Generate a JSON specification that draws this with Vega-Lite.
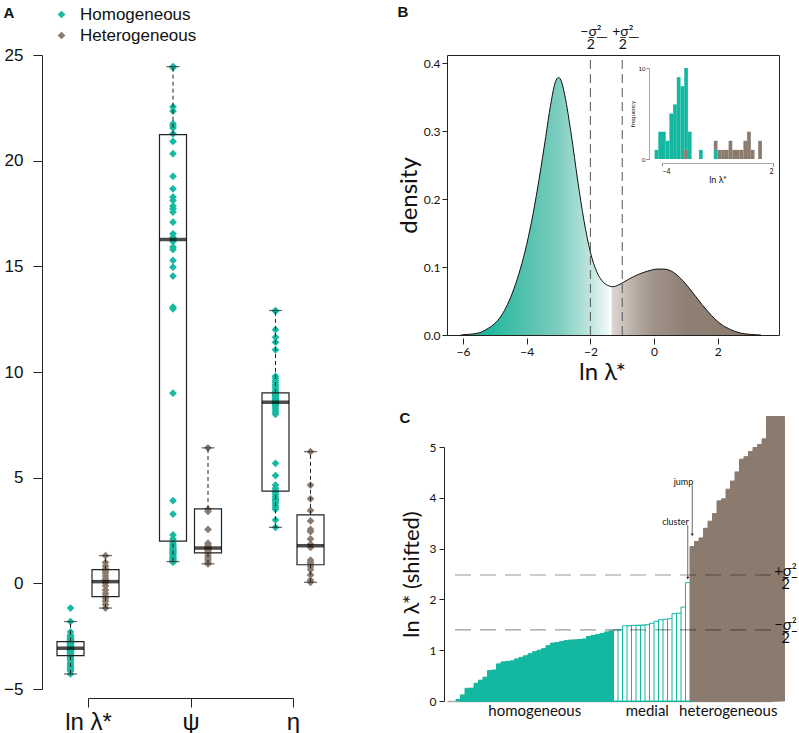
{
  "$schema": "https://vega.github.io/schema/vega-lite/v6.json",
  "padding": {"left": 3, "top": 3, "right": 0, "bottom": 0},
  "config": {
    "view": {"stroke": null},
    "font": "Liberation Sans",
    "axis": {"grid": false, "domainColor": "#222", "tickColor": "#222", "labelColor": "#111", "titleColor": "#111", "titleFontWeight": "normal"}
  },
  "datasets": {
    "stats": [
      {"param": "ln λ*", "group": "Homogeneous", "min": -4.29, "q1": -3.42, "med": -3.07, "q3": -2.76, "max": -1.81},
      {"param": "ln λ*", "group": "Heterogeneous", "min": -1.17, "q1": -0.63, "med": 0.08, "q3": 0.65, "max": 1.31},
      {"param": "ψ", "group": "Homogeneous", "min": 1.03, "q1": 2.0, "med": 16.27, "q3": 21.23, "max": 24.45},
      {"param": "ψ", "group": "Heterogeneous", "min": 0.92, "q1": 1.44, "med": 1.67, "q3": 3.52, "max": 6.41},
      {"param": "η", "group": "Homogeneous", "min": 2.65, "q1": 4.36, "med": 8.57, "q3": 9.01, "max": 12.91},
      {"param": "η", "group": "Heterogeneous", "min": 0.05, "q1": 0.88, "med": 1.78, "q3": 3.24, "max": 6.23}
    ],
    "pts": [
      {"param": "ln λ*", "group": "Homogeneous", "value": -4.29},
      {"param": "ln λ*", "group": "Homogeneous", "value": -4.15},
      {"param": "ln λ*", "group": "Homogeneous", "value": -4.08},
      {"param": "ln λ*", "group": "Homogeneous", "value": -4.02},
      {"param": "ln λ*", "group": "Homogeneous", "value": -3.95},
      {"param": "ln λ*", "group": "Homogeneous", "value": -3.88},
      {"param": "ln λ*", "group": "Homogeneous", "value": -3.82},
      {"param": "ln λ*", "group": "Homogeneous", "value": -3.75},
      {"param": "ln λ*", "group": "Homogeneous", "value": -3.65},
      {"param": "ln λ*", "group": "Homogeneous", "value": -3.58},
      {"param": "ln λ*", "group": "Homogeneous", "value": -3.52},
      {"param": "ln λ*", "group": "Homogeneous", "value": -3.47},
      {"param": "ln λ*", "group": "Homogeneous", "value": -3.43},
      {"param": "ln λ*", "group": "Homogeneous", "value": -3.41},
      {"param": "ln λ*", "group": "Homogeneous", "value": -3.38},
      {"param": "ln λ*", "group": "Homogeneous", "value": -3.33},
      {"param": "ln λ*", "group": "Homogeneous", "value": -3.28},
      {"param": "ln λ*", "group": "Homogeneous", "value": -3.25},
      {"param": "ln λ*", "group": "Homogeneous", "value": -3.22},
      {"param": "ln λ*", "group": "Homogeneous", "value": -3.21},
      {"param": "ln λ*", "group": "Homogeneous", "value": -3.19},
      {"param": "ln λ*", "group": "Homogeneous", "value": -3.17},
      {"param": "ln λ*", "group": "Homogeneous", "value": -3.15},
      {"param": "ln λ*", "group": "Homogeneous", "value": -3.12},
      {"param": "ln λ*", "group": "Homogeneous", "value": -3.10},
      {"param": "ln λ*", "group": "Homogeneous", "value": -3.08},
      {"param": "ln λ*", "group": "Homogeneous", "value": -3.06},
      {"param": "ln λ*", "group": "Homogeneous", "value": -3.05},
      {"param": "ln λ*", "group": "Homogeneous", "value": -3.02},
      {"param": "ln λ*", "group": "Homogeneous", "value": -2.99},
      {"param": "ln λ*", "group": "Homogeneous", "value": -2.96},
      {"param": "ln λ*", "group": "Homogeneous", "value": -2.93},
      {"param": "ln λ*", "group": "Homogeneous", "value": -2.90},
      {"param": "ln λ*", "group": "Homogeneous", "value": -2.87},
      {"param": "ln λ*", "group": "Homogeneous", "value": -2.85},
      {"param": "ln λ*", "group": "Homogeneous", "value": -2.83},
      {"param": "ln λ*", "group": "Homogeneous", "value": -2.81},
      {"param": "ln λ*", "group": "Homogeneous", "value": -2.79},
      {"param": "ln λ*", "group": "Homogeneous", "value": -2.77},
      {"param": "ln λ*", "group": "Homogeneous", "value": -2.75},
      {"param": "ln λ*", "group": "Homogeneous", "value": -2.73},
      {"param": "ln λ*", "group": "Homogeneous", "value": -2.71},
      {"param": "ln λ*", "group": "Homogeneous", "value": -2.69},
      {"param": "ln λ*", "group": "Homogeneous", "value": -2.67},
      {"param": "ln λ*", "group": "Homogeneous", "value": -2.65},
      {"param": "ln λ*", "group": "Homogeneous", "value": -2.62},
      {"param": "ln λ*", "group": "Homogeneous", "value": -2.58},
      {"param": "ln λ*", "group": "Homogeneous", "value": -2.52},
      {"param": "ln λ*", "group": "Homogeneous", "value": -2.44},
      {"param": "ln λ*", "group": "Homogeneous", "value": -2.30},
      {"param": "ln λ*", "group": "Homogeneous", "value": -1.81},
      {"param": "ln λ*", "group": "Homogeneous", "value": -1.17},
      {"param": "ln λ*", "group": "Heterogeneous", "value": -1.17},
      {"param": "ln λ*", "group": "Heterogeneous", "value": -1.00},
      {"param": "ln λ*", "group": "Heterogeneous", "value": -0.85},
      {"param": "ln λ*", "group": "Heterogeneous", "value": -0.72},
      {"param": "ln λ*", "group": "Heterogeneous", "value": -0.62},
      {"param": "ln λ*", "group": "Heterogeneous", "value": -0.48},
      {"param": "ln λ*", "group": "Heterogeneous", "value": -0.32},
      {"param": "ln λ*", "group": "Heterogeneous", "value": -0.12},
      {"param": "ln λ*", "group": "Heterogeneous", "value": 0.03},
      {"param": "ln λ*", "group": "Heterogeneous", "value": 0.12},
      {"param": "ln λ*", "group": "Heterogeneous", "value": 0.22},
      {"param": "ln λ*", "group": "Heterogeneous", "value": 0.35},
      {"param": "ln λ*", "group": "Heterogeneous", "value": 0.48},
      {"param": "ln λ*", "group": "Heterogeneous", "value": 0.58},
      {"param": "ln λ*", "group": "Heterogeneous", "value": 0.68},
      {"param": "ln λ*", "group": "Heterogeneous", "value": 0.82},
      {"param": "ln λ*", "group": "Heterogeneous", "value": 0.98},
      {"param": "ln λ*", "group": "Heterogeneous", "value": 1.31},
      {"param": "ψ", "group": "Homogeneous", "value": 24.45},
      {"param": "ψ", "group": "Homogeneous", "value": 24.40},
      {"param": "ψ", "group": "Homogeneous", "value": 22.55},
      {"param": "ψ", "group": "Homogeneous", "value": 22.35},
      {"param": "ψ", "group": "Homogeneous", "value": 21.75},
      {"param": "ψ", "group": "Homogeneous", "value": 21.65},
      {"param": "ψ", "group": "Homogeneous", "value": 21.55},
      {"param": "ψ", "group": "Homogeneous", "value": 21.27},
      {"param": "ψ", "group": "Homogeneous", "value": 20.91},
      {"param": "ψ", "group": "Homogeneous", "value": 20.33},
      {"param": "ψ", "group": "Homogeneous", "value": 19.26},
      {"param": "ψ", "group": "Homogeneous", "value": 18.67},
      {"param": "ψ", "group": "Homogeneous", "value": 18.28},
      {"param": "ψ", "group": "Homogeneous", "value": 18.12},
      {"param": "ψ", "group": "Homogeneous", "value": 17.85},
      {"param": "ψ", "group": "Homogeneous", "value": 17.72},
      {"param": "ψ", "group": "Homogeneous", "value": 17.57},
      {"param": "ψ", "group": "Homogeneous", "value": 17.09},
      {"param": "ψ", "group": "Homogeneous", "value": 16.54},
      {"param": "ψ", "group": "Homogeneous", "value": 16.38},
      {"param": "ψ", "group": "Homogeneous", "value": 16.30},
      {"param": "ψ", "group": "Homogeneous", "value": 16.18},
      {"param": "ψ", "group": "Homogeneous", "value": 15.91},
      {"param": "ψ", "group": "Homogeneous", "value": 15.80},
      {"param": "ψ", "group": "Homogeneous", "value": 15.28},
      {"param": "ψ", "group": "Homogeneous", "value": 14.96},
      {"param": "ψ", "group": "Homogeneous", "value": 14.54},
      {"param": "ψ", "group": "Homogeneous", "value": 13.07},
      {"param": "ψ", "group": "Homogeneous", "value": 12.99},
      {"param": "ψ", "group": "Homogeneous", "value": 9.00},
      {"param": "ψ", "group": "Homogeneous", "value": 3.91},
      {"param": "ψ", "group": "Homogeneous", "value": 3.28},
      {"param": "ψ", "group": "Homogeneous", "value": 2.29},
      {"param": "ψ", "group": "Homogeneous", "value": 2.10},
      {"param": "ψ", "group": "Homogeneous", "value": 1.95},
      {"param": "ψ", "group": "Homogeneous", "value": 1.86},
      {"param": "ψ", "group": "Homogeneous", "value": 1.80},
      {"param": "ψ", "group": "Homogeneous", "value": 1.72},
      {"param": "ψ", "group": "Homogeneous", "value": 1.66},
      {"param": "ψ", "group": "Homogeneous", "value": 1.60},
      {"param": "ψ", "group": "Homogeneous", "value": 1.55},
      {"param": "ψ", "group": "Homogeneous", "value": 1.50},
      {"param": "ψ", "group": "Homogeneous", "value": 1.47},
      {"param": "ψ", "group": "Homogeneous", "value": 1.42},
      {"param": "ψ", "group": "Homogeneous", "value": 1.35},
      {"param": "ψ", "group": "Homogeneous", "value": 1.28},
      {"param": "ψ", "group": "Homogeneous", "value": 1.23},
      {"param": "ψ", "group": "Homogeneous", "value": 1.18},
      {"param": "ψ", "group": "Homogeneous", "value": 1.12},
      {"param": "ψ", "group": "Homogeneous", "value": 1.08},
      {"param": "ψ", "group": "Homogeneous", "value": 1.03},
      {"param": "ψ", "group": "Homogeneous", "value": 1.00},
      {"param": "ψ", "group": "Heterogeneous", "value": 6.41},
      {"param": "ψ", "group": "Heterogeneous", "value": 3.50},
      {"param": "ψ", "group": "Heterogeneous", "value": 3.40},
      {"param": "ψ", "group": "Heterogeneous", "value": 2.55},
      {"param": "ψ", "group": "Heterogeneous", "value": 1.90},
      {"param": "ψ", "group": "Heterogeneous", "value": 1.80},
      {"param": "ψ", "group": "Heterogeneous", "value": 1.75},
      {"param": "ψ", "group": "Heterogeneous", "value": 1.70},
      {"param": "ψ", "group": "Heterogeneous", "value": 1.65},
      {"param": "ψ", "group": "Heterogeneous", "value": 1.62},
      {"param": "ψ", "group": "Heterogeneous", "value": 1.55},
      {"param": "ψ", "group": "Heterogeneous", "value": 1.50},
      {"param": "ψ", "group": "Heterogeneous", "value": 1.42},
      {"param": "ψ", "group": "Heterogeneous", "value": 1.30},
      {"param": "ψ", "group": "Heterogeneous", "value": 1.20},
      {"param": "ψ", "group": "Heterogeneous", "value": 1.10},
      {"param": "ψ", "group": "Heterogeneous", "value": 0.98},
      {"param": "ψ", "group": "Heterogeneous", "value": 0.92},
      {"param": "η", "group": "Homogeneous", "value": 12.91},
      {"param": "η", "group": "Homogeneous", "value": 12.88},
      {"param": "η", "group": "Homogeneous", "value": 12.00},
      {"param": "η", "group": "Homogeneous", "value": 11.65},
      {"param": "η", "group": "Homogeneous", "value": 11.41},
      {"param": "η", "group": "Homogeneous", "value": 11.05},
      {"param": "η", "group": "Homogeneous", "value": 9.80},
      {"param": "η", "group": "Homogeneous", "value": 9.70},
      {"param": "η", "group": "Homogeneous", "value": 9.60},
      {"param": "η", "group": "Homogeneous", "value": 9.50},
      {"param": "η", "group": "Homogeneous", "value": 9.40},
      {"param": "η", "group": "Homogeneous", "value": 9.30},
      {"param": "η", "group": "Homogeneous", "value": 9.20},
      {"param": "η", "group": "Homogeneous", "value": 9.10},
      {"param": "η", "group": "Homogeneous", "value": 9.05},
      {"param": "η", "group": "Homogeneous", "value": 9.00},
      {"param": "η", "group": "Homogeneous", "value": 8.95},
      {"param": "η", "group": "Homogeneous", "value": 8.90},
      {"param": "η", "group": "Homogeneous", "value": 8.85},
      {"param": "η", "group": "Homogeneous", "value": 8.80},
      {"param": "η", "group": "Homogeneous", "value": 8.75},
      {"param": "η", "group": "Homogeneous", "value": 8.70},
      {"param": "η", "group": "Homogeneous", "value": 8.65},
      {"param": "η", "group": "Homogeneous", "value": 8.62},
      {"param": "η", "group": "Homogeneous", "value": 8.60},
      {"param": "η", "group": "Homogeneous", "value": 8.58},
      {"param": "η", "group": "Homogeneous", "value": 8.55},
      {"param": "η", "group": "Homogeneous", "value": 8.52},
      {"param": "η", "group": "Homogeneous", "value": 8.50},
      {"param": "η", "group": "Homogeneous", "value": 8.45},
      {"param": "η", "group": "Homogeneous", "value": 8.40},
      {"param": "η", "group": "Homogeneous", "value": 8.30},
      {"param": "η", "group": "Homogeneous", "value": 8.20},
      {"param": "η", "group": "Homogeneous", "value": 8.10},
      {"param": "η", "group": "Homogeneous", "value": 8.00},
      {"param": "η", "group": "Homogeneous", "value": 5.68},
      {"param": "η", "group": "Homogeneous", "value": 5.10},
      {"param": "η", "group": "Homogeneous", "value": 4.65},
      {"param": "η", "group": "Homogeneous", "value": 4.50},
      {"param": "η", "group": "Homogeneous", "value": 4.40},
      {"param": "η", "group": "Homogeneous", "value": 4.30},
      {"param": "η", "group": "Homogeneous", "value": 4.20},
      {"param": "η", "group": "Homogeneous", "value": 4.10},
      {"param": "η", "group": "Homogeneous", "value": 4.00},
      {"param": "η", "group": "Homogeneous", "value": 3.95},
      {"param": "η", "group": "Homogeneous", "value": 3.90},
      {"param": "η", "group": "Homogeneous", "value": 3.80},
      {"param": "η", "group": "Homogeneous", "value": 3.70},
      {"param": "η", "group": "Homogeneous", "value": 3.60},
      {"param": "η", "group": "Homogeneous", "value": 3.50},
      {"param": "η", "group": "Homogeneous", "value": 3.00},
      {"param": "η", "group": "Homogeneous", "value": 2.65},
      {"param": "η", "group": "Heterogeneous", "value": 6.23},
      {"param": "η", "group": "Heterogeneous", "value": 4.65},
      {"param": "η", "group": "Heterogeneous", "value": 4.00},
      {"param": "η", "group": "Heterogeneous", "value": 3.45},
      {"param": "η", "group": "Heterogeneous", "value": 2.95},
      {"param": "η", "group": "Heterogeneous", "value": 2.55},
      {"param": "η", "group": "Heterogeneous", "value": 2.45},
      {"param": "η", "group": "Heterogeneous", "value": 2.10},
      {"param": "η", "group": "Heterogeneous", "value": 1.85},
      {"param": "η", "group": "Heterogeneous", "value": 1.70},
      {"param": "η", "group": "Heterogeneous", "value": 1.10},
      {"param": "η", "group": "Heterogeneous", "value": 1.00},
      {"param": "η", "group": "Heterogeneous", "value": 0.90},
      {"param": "η", "group": "Heterogeneous", "value": 0.80},
      {"param": "η", "group": "Heterogeneous", "value": 0.65},
      {"param": "η", "group": "Heterogeneous", "value": 0.40},
      {"param": "η", "group": "Heterogeneous", "value": 0.15},
      {"param": "η", "group": "Heterogeneous", "value": 0.05}
    ],
    "dens": [
      {"x": -6.07, "d": 0}, {"x": -5.8, "d": 0.001}, {"x": -5.5, "d": 0.003}, {"x": -5.2, "d": 0.01},
      {"x": -5.0, "d": 0.017}, {"x": -4.8, "d": 0.028}, {"x": -4.6, "d": 0.045}, {"x": -4.4, "d": 0.068},
      {"x": -4.2, "d": 0.097}, {"x": -4.0, "d": 0.133}, {"x": -3.8, "d": 0.178}, {"x": -3.6, "d": 0.232},
      {"x": -3.4, "d": 0.292}, {"x": -3.25, "d": 0.338}, {"x": -3.1, "d": 0.372}, {"x": -3.0, "d": 0.379},
      {"x": -2.9, "d": 0.372}, {"x": -2.8, "d": 0.352}, {"x": -2.6, "d": 0.295}, {"x": -2.4, "d": 0.228},
      {"x": -2.2, "d": 0.168}, {"x": -2.0, "d": 0.122}, {"x": -1.8, "d": 0.093}, {"x": -1.6, "d": 0.078},
      {"x": -1.4, "d": 0.072}, {"x": -1.3, "d": 0.071}, {"x": -1.1, "d": 0.074}, {"x": -0.8, "d": 0.082},
      {"x": -0.5, "d": 0.089}, {"x": -0.2, "d": 0.094}, {"x": 0.1, "d": 0.097}, {"x": 0.3, "d": 0.097},
      {"x": 0.5, "d": 0.095}, {"x": 0.7, "d": 0.089}, {"x": 0.9, "d": 0.08}, {"x": 1.1, "d": 0.069},
      {"x": 1.3, "d": 0.057}, {"x": 1.5, "d": 0.045}, {"x": 1.7, "d": 0.034}, {"x": 1.9, "d": 0.024},
      {"x": 2.1, "d": 0.016}, {"x": 2.4, "d": 0.008}, {"x": 2.7, "d": 0.003}, {"x": 3.0, "d": 0.001},
      {"x": 3.35, "d": 0}
    ],
    "hist": [
      {"b0": -4.4, "b1": -4.2, "lo": 0, "hi": 1, "grp": "Homogeneous"},
      {"b0": -4.2, "b1": -4.0, "lo": 0, "hi": 3, "grp": "Homogeneous"},
      {"b0": -4.0, "b1": -3.8, "lo": 0, "hi": 3, "grp": "Homogeneous"},
      {"b0": -3.8, "b1": -3.6, "lo": 0, "hi": 2, "grp": "Homogeneous"},
      {"b0": -3.6, "b1": -3.4, "lo": 0, "hi": 5, "grp": "Homogeneous"},
      {"b0": -3.4, "b1": -3.2, "lo": 0, "hi": 6, "grp": "Homogeneous"},
      {"b0": -3.2, "b1": -3.0, "lo": 0, "hi": 9, "grp": "Homogeneous"},
      {"b0": -3.0, "b1": -2.8, "lo": 0, "hi": 8, "grp": "Homogeneous"},
      {"b0": -2.8, "b1": -2.6, "lo": 1, "hi": 10, "grp": "Homogeneous"},
      {"b0": -2.6, "b1": -2.4, "lo": 0, "hi": 3, "grp": "Homogeneous"},
      {"b0": -2.0, "b1": -1.8, "lo": 0, "hi": 1, "grp": "Homogeneous"},
      {"b0": -1.2, "b1": -1.0, "lo": 0, "hi": 1, "grp": "Homogeneous"},
      {"b0": -2.8, "b1": -2.6, "lo": 0, "hi": 1, "grp": "Heterogeneous"},
      {"b0": -1.2, "b1": -1.0, "lo": 1, "hi": 2, "grp": "Heterogeneous"},
      {"b0": -1.0, "b1": -0.8, "lo": 0, "hi": 1, "grp": "Heterogeneous"},
      {"b0": -0.8, "b1": -0.6, "lo": 0, "hi": 1, "grp": "Heterogeneous"},
      {"b0": -0.6, "b1": -0.4, "lo": 0, "hi": 1, "grp": "Heterogeneous"},
      {"b0": -0.4, "b1": -0.2, "lo": 0, "hi": 2, "grp": "Heterogeneous"},
      {"b0": -0.2, "b1": 0.0, "lo": 0, "hi": 1, "grp": "Heterogeneous"},
      {"b0": 0.0, "b1": 0.2, "lo": 0, "hi": 1, "grp": "Heterogeneous"},
      {"b0": 0.2, "b1": 0.4, "lo": 0, "hi": 1, "grp": "Heterogeneous"},
      {"b0": 0.4, "b1": 0.6, "lo": 0, "hi": 2, "grp": "Heterogeneous"},
      {"b0": 0.6, "b1": 0.8, "lo": 0, "hi": 3, "grp": "Heterogeneous"},
      {"b0": 0.8, "b1": 1.0, "lo": 0, "hi": 1, "grp": "Heterogeneous"},
      {"b0": 1.2, "b1": 1.4, "lo": 0, "hi": 2, "grp": "Heterogeneous"}
    ],
    "bars": [
      {"i": 1, "v": 0.03, "cat": "homogeneous"}, {"i": 2, "v": 0.12, "cat": "homogeneous"},
      {"i": 3, "v": 0.25, "cat": "homogeneous"}, {"i": 4, "v": 0.25, "cat": "homogeneous"},
      {"i": 5, "v": 0.35, "cat": "homogeneous"}, {"i": 6, "v": 0.41, "cat": "homogeneous"},
      {"i": 7, "v": 0.47, "cat": "homogeneous"}, {"i": 8, "v": 0.60, "cat": "homogeneous"},
      {"i": 9, "v": 0.61, "cat": "homogeneous"}, {"i": 10, "v": 0.73, "cat": "homogeneous"},
      {"i": 11, "v": 0.77, "cat": "homogeneous"}, {"i": 12, "v": 0.78, "cat": "homogeneous"},
      {"i": 13, "v": 0.79, "cat": "homogeneous"}, {"i": 14, "v": 0.83, "cat": "homogeneous"},
      {"i": 15, "v": 0.86, "cat": "homogeneous"}, {"i": 16, "v": 0.89, "cat": "homogeneous"},
      {"i": 17, "v": 0.93, "cat": "homogeneous"}, {"i": 18, "v": 0.97, "cat": "homogeneous"},
      {"i": 19, "v": 1.00, "cat": "homogeneous"}, {"i": 20, "v": 1.03, "cat": "homogeneous"},
      {"i": 21, "v": 1.09, "cat": "homogeneous"}, {"i": 22, "v": 1.14, "cat": "homogeneous"},
      {"i": 23, "v": 1.15, "cat": "homogeneous"}, {"i": 24, "v": 1.17, "cat": "homogeneous"},
      {"i": 25, "v": 1.19, "cat": "homogeneous"}, {"i": 26, "v": 1.20, "cat": "homogeneous"},
      {"i": 27, "v": 1.20, "cat": "homogeneous"}, {"i": 28, "v": 1.21, "cat": "homogeneous"},
      {"i": 29, "v": 1.22, "cat": "homogeneous"}, {"i": 30, "v": 1.27, "cat": "homogeneous"},
      {"i": 31, "v": 1.29, "cat": "homogeneous"}, {"i": 32, "v": 1.31, "cat": "homogeneous"},
      {"i": 33, "v": 1.33, "cat": "homogeneous"}, {"i": 34, "v": 1.36, "cat": "homogeneous"},
      {"i": 35, "v": 1.38, "cat": "homogeneous"},
      {"i": 36, "v": 1.40, "cat": "medial"}, {"i": 37, "v": 1.40, "cat": "medial"},
      {"i": 38, "v": 1.48, "cat": "medial"}, {"i": 39, "v": 1.48, "cat": "medial"},
      {"i": 40, "v": 1.49, "cat": "medial"}, {"i": 41, "v": 1.49, "cat": "medial"},
      {"i": 42, "v": 1.49, "cat": "medial"}, {"i": 43, "v": 1.50, "cat": "medial"},
      {"i": 44, "v": 1.53, "cat": "medial"}, {"i": 45, "v": 1.57, "cat": "medial"},
      {"i": 46, "v": 1.60, "cat": "medial"}, {"i": 47, "v": 1.61, "cat": "medial"},
      {"i": 48, "v": 1.62, "cat": "medial"}, {"i": 49, "v": 1.72, "cat": "medial"},
      {"i": 50, "v": 1.73, "cat": "medial"}, {"i": 51, "v": 1.85, "cat": "medial"},
      {"i": 52, "v": 2.33, "cat": "medial"},
      {"i": 53, "v": 3.04, "cat": "heterogeneous"}, {"i": 54, "v": 3.14, "cat": "heterogeneous"},
      {"i": 55, "v": 3.21, "cat": "heterogeneous"}, {"i": 56, "v": 3.40, "cat": "heterogeneous"},
      {"i": 57, "v": 3.54, "cat": "heterogeneous"}, {"i": 58, "v": 3.69, "cat": "heterogeneous"},
      {"i": 59, "v": 3.94, "cat": "heterogeneous"}, {"i": 60, "v": 3.98, "cat": "heterogeneous"},
      {"i": 61, "v": 4.17, "cat": "heterogeneous"}, {"i": 62, "v": 4.33, "cat": "heterogeneous"},
      {"i": 63, "v": 4.51, "cat": "heterogeneous"}, {"i": 64, "v": 4.76, "cat": "heterogeneous"},
      {"i": 65, "v": 4.81, "cat": "heterogeneous"}, {"i": 66, "v": 4.91, "cat": "heterogeneous"},
      {"i": 67, "v": 4.99, "cat": "heterogeneous"}, {"i": 68, "v": 5.05, "cat": "heterogeneous"},
      {"i": 69, "v": 5.16, "cat": "heterogeneous"}, {"i": 70, "v": 5.60, "cat": "heterogeneous"}
    ],
    "notes": [
      {"i": 53, "top": 4.25, "bot": 3.27, "lab": "jump"},
      {"i": 52, "top": 3.46, "bot": 2.42, "lab": "cluster"}
    ]
  },
  "resolve": {"scale": {"color": "independent", "fill": "independent", "stroke": "independent"}, "legend": {"color": "independent"}},
  "spacing": 71,
  "hconcat": [
    {
      "width": 205,
      "height": 634,
      "encoding": {
        "x": {"field": "param", "type": "nominal",
          "scale": {"type": "point", "padding": 0, "domain": ["ln λ*", "ψ", "η"]},
          "axis": {"offset": 9, "tickSize": 9, "labelFontSize": 24, "labelAngle": 0, "labelPadding": 3, "title": null, "labelColor": "#111"}},
        "xOffset": {"field": "group", "type": "nominal",
          "scale": {"type": "point", "domain": ["Homogeneous", "Heterogeneous"], "range": [-17.5, 17.5], "padding": 0}}
      },
      "layer": [
        {"data": {"name": "stats"}, "mark": {"type": "bar", "size": 27, "fill": "white"},
          "encoding": {
            "y": {"field": "q1", "type": "quantitative",
              "scale": {"domain": [-5, 25], "nice": false, "zero": false},
              "axis": {"offset": 46, "values": [-5, 0, 5, 10, 15, 20, 25], "tickSize": 9, "labelPadding": 10, "labelFontSize": 17,
                "title": "A", "titleAngle": 0, "titleX": -39, "titleY": -50, "titleAlign": "left", "titleBaseline": "top",
                "titleFontSize": 15, "titleFontWeight": "bold"}},
            "y2": {"field": "q3"}
          }},
        {"data": {"name": "pts"}, "mark": {"type": "point", "shape": "diamond", "filled": true, "size": 60, "opacity": 1},
          "encoding": {
            "y": {"field": "value", "type": "quantitative"},
            "color": {"field": "group", "type": "nominal",
              "scale": {"domain": ["Homogeneous", "Heterogeneous"], "range": ["#17b9a1", "#8c7c70"]},
              "legend": {"orient": "none", "legendX": -35, "legendY": -49, "title": null, "labelFontSize": 17,
                "labelFont": "Liberation Sans", "labelColor": "#111", "symbolSize": 60, "symbolType": "diamond",
                "labelOffset": 10, "rowPadding": 3, "symbolStrokeWidth": 0}}
          }},
        {"data": {"name": "stats"}, "mark": {"type": "bar", "size": 27, "fillOpacity": 0, "stroke": "#222", "strokeWidth": 1.2},
          "encoding": {"y": {"field": "q1", "type": "quantitative"}, "y2": {"field": "q3"}}},
        {"data": {"name": "stats"}, "mark": {"type": "rule", "strokeDash": [4, 3], "color": "#222"},
          "encoding": {"y": {"field": "q3", "type": "quantitative"}, "y2": {"field": "max"}}},
        {"data": {"name": "stats"}, "mark": {"type": "rule", "strokeDash": [4, 3], "color": "#222"},
          "encoding": {"y": {"field": "min", "type": "quantitative"}, "y2": {"field": "q1"}}},
        {"data": {"name": "stats"}, "mark": {"type": "tick", "size": 13, "thickness": 1.2, "color": "#222"},
          "encoding": {"y": {"field": "max", "type": "quantitative"}}},
        {"data": {"name": "stats"}, "mark": {"type": "tick", "size": 13, "thickness": 1.2, "color": "#222"},
          "encoding": {"y": {"field": "min", "type": "quantitative"}}},
        {"data": {"name": "stats"}, "mark": {"type": "tick", "size": 27, "thickness": 3.5, "color": "#000"},
          "encoding": {"y": {"field": "med", "type": "quantitative"}}}
      ]
    },
    {
      "spacing": 25,
      "resolve": {"scale": {"color": "independent", "fill": "independent", "stroke": "independent"}},
      "vconcat": [
        {
          "width": 332,
          "height": 280,
          "view": {"stroke": "#222", "strokeWidth": 1},
          "resolve": {"scale": {"x": "independent", "y": "independent"}},
          "layer": [
            {"data": {"name": "dens"},
              "mark": {"type": "area", "interpolate": "monotone",
                "fill": {"gradient": "linear", "x1": 0, "y1": 0, "x2": 1, "y2": 0, "stops": [
                  {"offset": 0, "color": "#12b59c"},
                  {"offset": 0.09, "color": "#22b89e"},
                  {"offset": 0.22, "color": "#55c2ae"},
                  {"offset": 0.326, "color": "#7ccdbf"},
                  {"offset": 0.432, "color": "#bfe5de"},
                  {"offset": 0.485, "color": "#eaf6f4"},
                  {"offset": 0.5, "color": "#ffffff"},
                  {"offset": 0.506, "color": "#ddd5d0"},
                  {"offset": 0.538, "color": "#cdc4be"},
                  {"offset": 0.591, "color": "#b3a89f"},
                  {"offset": 0.644, "color": "#9f9288"},
                  {"offset": 0.75, "color": "#8f8075"},
                  {"offset": 1, "color": "#8a7a6d"}]}},
              "encoding": {
                "x": {"field": "x", "type": "quantitative", "scale": {"domain": [-6.5, 3.92], "nice": false, "zero": false},
                  "axis": {"values": [-6, -4, -2, 0, 2], "offset": 3, "domain": false, "tickSize": 6, "labelFontSize": 12,
                    "labelFont": "Lato", "labelPadding": 2, "title": "ln λ*", "titleFont": "Lato", "titleFontSize": 24, "titlePadding": 3,
                    "titleX": 155}},
                "y": {"field": "d", "type": "quantitative", "scale": {"domain": [0, 0.412], "nice": false},
                  "axis": {"values": [0, 0.1, 0.2, 0.3, 0.4], "format": ".1f", "domain": false, "tickSize": 5, "labelPadding": 2,
                    "labelFontSize": 12, "labelFont": "Lato", "title": "density", "titleFont": "Lato", "titleFontSize": 24, "titlePadding": 2}}
              }},
            {"data": {"name": "dens"}, "mark": {"type": "line", "interpolate": "monotone", "color": "#111", "strokeWidth": 1},
              "encoding": {
                "x": {"field": "x", "type": "quantitative", "scale": {"domain": [-6.5, 3.92], "nice": false, "zero": false}, "axis": null},
                "y": {"field": "d", "type": "quantitative", "scale": {"domain": [0, 0.412], "nice": false}, "axis": null}
              }},
            {"data": {"values": [{"s": -2}, {"s": -1}]},
              "mark": {"type": "rule", "strokeDash": [9, 5], "color": "#555", "strokeWidth": 1},
              "encoding": {
                "x": {"field": "s", "type": "quantitative", "scale": {"domain": [-6.5, 3.92], "nice": false, "zero": false},
                  "axis": {"orient": "top", "values": [-2, -1], "domain": false, "ticks": false,
                    "labelExpr": "datum.value < -1.5 ? ['\u2212\u0332σ\u0332²\u0332', '2'] : ['+\u0332σ\u0332²\u0332', '2']",
                    "labelFontSize": 14, "labelLineHeight": 13, "labelPadding": 17, "labelFont": "Lato", "labelColor": "#111",
                    "title": "B", "titleX": -50, "titleY": -51, "titleAlign": "left", "titleBaseline": "top",
                    "titleFontSize": 15, "titleFontWeight": "bold", "titleFont": "Liberation Sans"}},
                "y": {"datum": 0, "type": "quantitative", "scale": {"domain": [0, 0.412], "nice": false},
                  "axis": {"orient": "right", "domain": false, "ticks": false, "labels": false, "title": null}},
                "y2": {"datum": 0.412}
              }},
            {"data": {"name": "hist"}, "mark": {"type": "bar"},
              "encoding": {
                "x": {"field": "b0", "type": "quantitative", "scale": {"domain": [-4, 2], "range": [215, 326], "nice": false, "zero": false},
                  "axis": {"orient": "bottom", "offset": -172, "values": [-4, 2], "tickSize": 3, "labelFontSize": 7, "labelPadding": 1,
                    "labelFont": "Lato", "domainColor": "#aaa", "tickColor": "#888", "title": "ln λ*", "titleFont": "Lato",
                    "titleFontSize": 9, "titlePadding": 1}},
                "x2": {"field": "b1"},
                "y": {"field": "hi", "type": "quantitative", "scale": {"domain": [0, 10], "range": [104, 13], "nice": false},
                  "axis": {"orient": "left", "offset": -202, "values": [0, 10], "tickSize": 3, "labelFontSize": 6, "labelPadding": 1,
                    "labelFont": "Lato", "domainColor": "#aaa", "tickColor": "#888", "title": "frequency", "titleFont": "Lato",
                    "titleFontSize": 6, "titlePadding": 3}},
                "y2": {"field": "lo"},
                "color": {"field": "grp", "type": "nominal",
                  "scale": {"domain": ["Homogeneous", "Heterogeneous"], "range": ["#14b8a0", "#8b7b6e"]}, "legend": null}
              }}
          ]
        },
        {
          "width": 324,
          "height": 254,
          "resolve": {"axis": {"y": "independent"}},
          "layer": [
            {"data": {"name": "bars"}, "mark": {"type": "bar", "strokeWidth": 1},
              "encoding": {
                "x": {"field": "i", "type": "ordinal", "scale": {"paddingInner": 0, "paddingOuter": 1.1146, "align": 1},
                  "axis": {"values": [18, 43, 61],
                    "labelExpr": "datum.value == 18 ? 'homogeneous' : datum.value == 43 ? 'medial' : 'heterogeneous'",
                    "ticks": false, "labelAngle": 0, "labelFontSize": 15, "labelFont": "Lato", "labelPadding": 2,
                    "domainColor": "#aaa", "domainWidth": 1.5, "title": null}},
                "y": {"field": "v", "type": "quantitative", "scale": {"domain": [0, 5], "nice": false},
                  "axis": {"offset": 3, "values": [0, 1, 2, 3, 4, 5], "tickSize": 5, "labelFontSize": 12, "labelFont": "Lato",
                    "labelPadding": 3, "title": "ln λ* (shifted)", "titleFont": "Lato", "titleFontSize": 22, "titlePadding": 6}},
                "fill": {"field": "cat", "type": "nominal",
                  "scale": {"domain": ["homogeneous", "medial", "heterogeneous"], "range": ["#14b8a0", "#ffffff", "#8b7b6e"]}, "legend": null},
                "stroke": {"field": "cat", "type": "nominal",
                  "scale": {"domain": ["homogeneous", "medial", "heterogeneous"], "range": ["#14b8a0", "#14b8a0", "#8b7b6e"]}, "legend": null}
              }},
            {"data": {"values": [{"h": 1.40}, {"h": 2.48}]},
              "mark": {"type": "rule", "strokeDash": [16, 9], "color": "#000", "opacity": 0.4, "strokeWidth": 1.2},
              "encoding": {
                "y": {"field": "h", "type": "quantitative",
                  "axis": {"orient": "right", "values": [1.4, 2.48], "domain": false, "ticks": false, "zindex": 1,
                    "labelExpr": "datum.value > 2 ? ['+\u0332σ\u0332²\u0332', '2'] : ['\u2212\u0332σ\u0332²\u0332', '2']",
                    "labelFontSize": 15, "labelLineHeight": 13, "labelAlign": "center", "labelPadding": 14, "labelBaseline": "middle",
                    "labelOffset": -5, "labelFont": "Lato", "labelColor": "#111",
                    "title": "C", "titleX": -372, "titleY": -37, "titleAngle": 0, "titleAlign": "left", "titleBaseline": "top",
                    "titleFontSize": 15, "titleFontWeight": "bold", "titleFont": "Liberation Sans"}}
              }},
            {"data": {"name": "notes"}, "mark": {"type": "rule", "color": "#444", "strokeWidth": 0.8},
              "encoding": {"x": {"field": "i", "type": "ordinal"}, "y": {"field": "top", "type": "quantitative", "axis": null}, "y2": {"field": "bot"}}},
            {"data": {"name": "notes"}, "mark": {"type": "point", "shape": "triangle-down", "filled": true, "size": 10, "color": "#333", "opacity": 1},
              "encoding": {"x": {"field": "i", "type": "ordinal"}, "y": {"field": "bot", "type": "quantitative", "axis": null}}},
            {"data": {"name": "notes"}, "mark": {"type": "text", "align": "right", "baseline": "bottom", "dx": 1, "dy": 2, "fontSize": 9, "font": "Lato", "color": "#111"},
              "encoding": {"x": {"field": "i", "type": "ordinal"}, "y": {"field": "top", "type": "quantitative", "axis": null}, "text": {"field": "lab"}}}
          ]
        }
      ]
    }
  ]
}
